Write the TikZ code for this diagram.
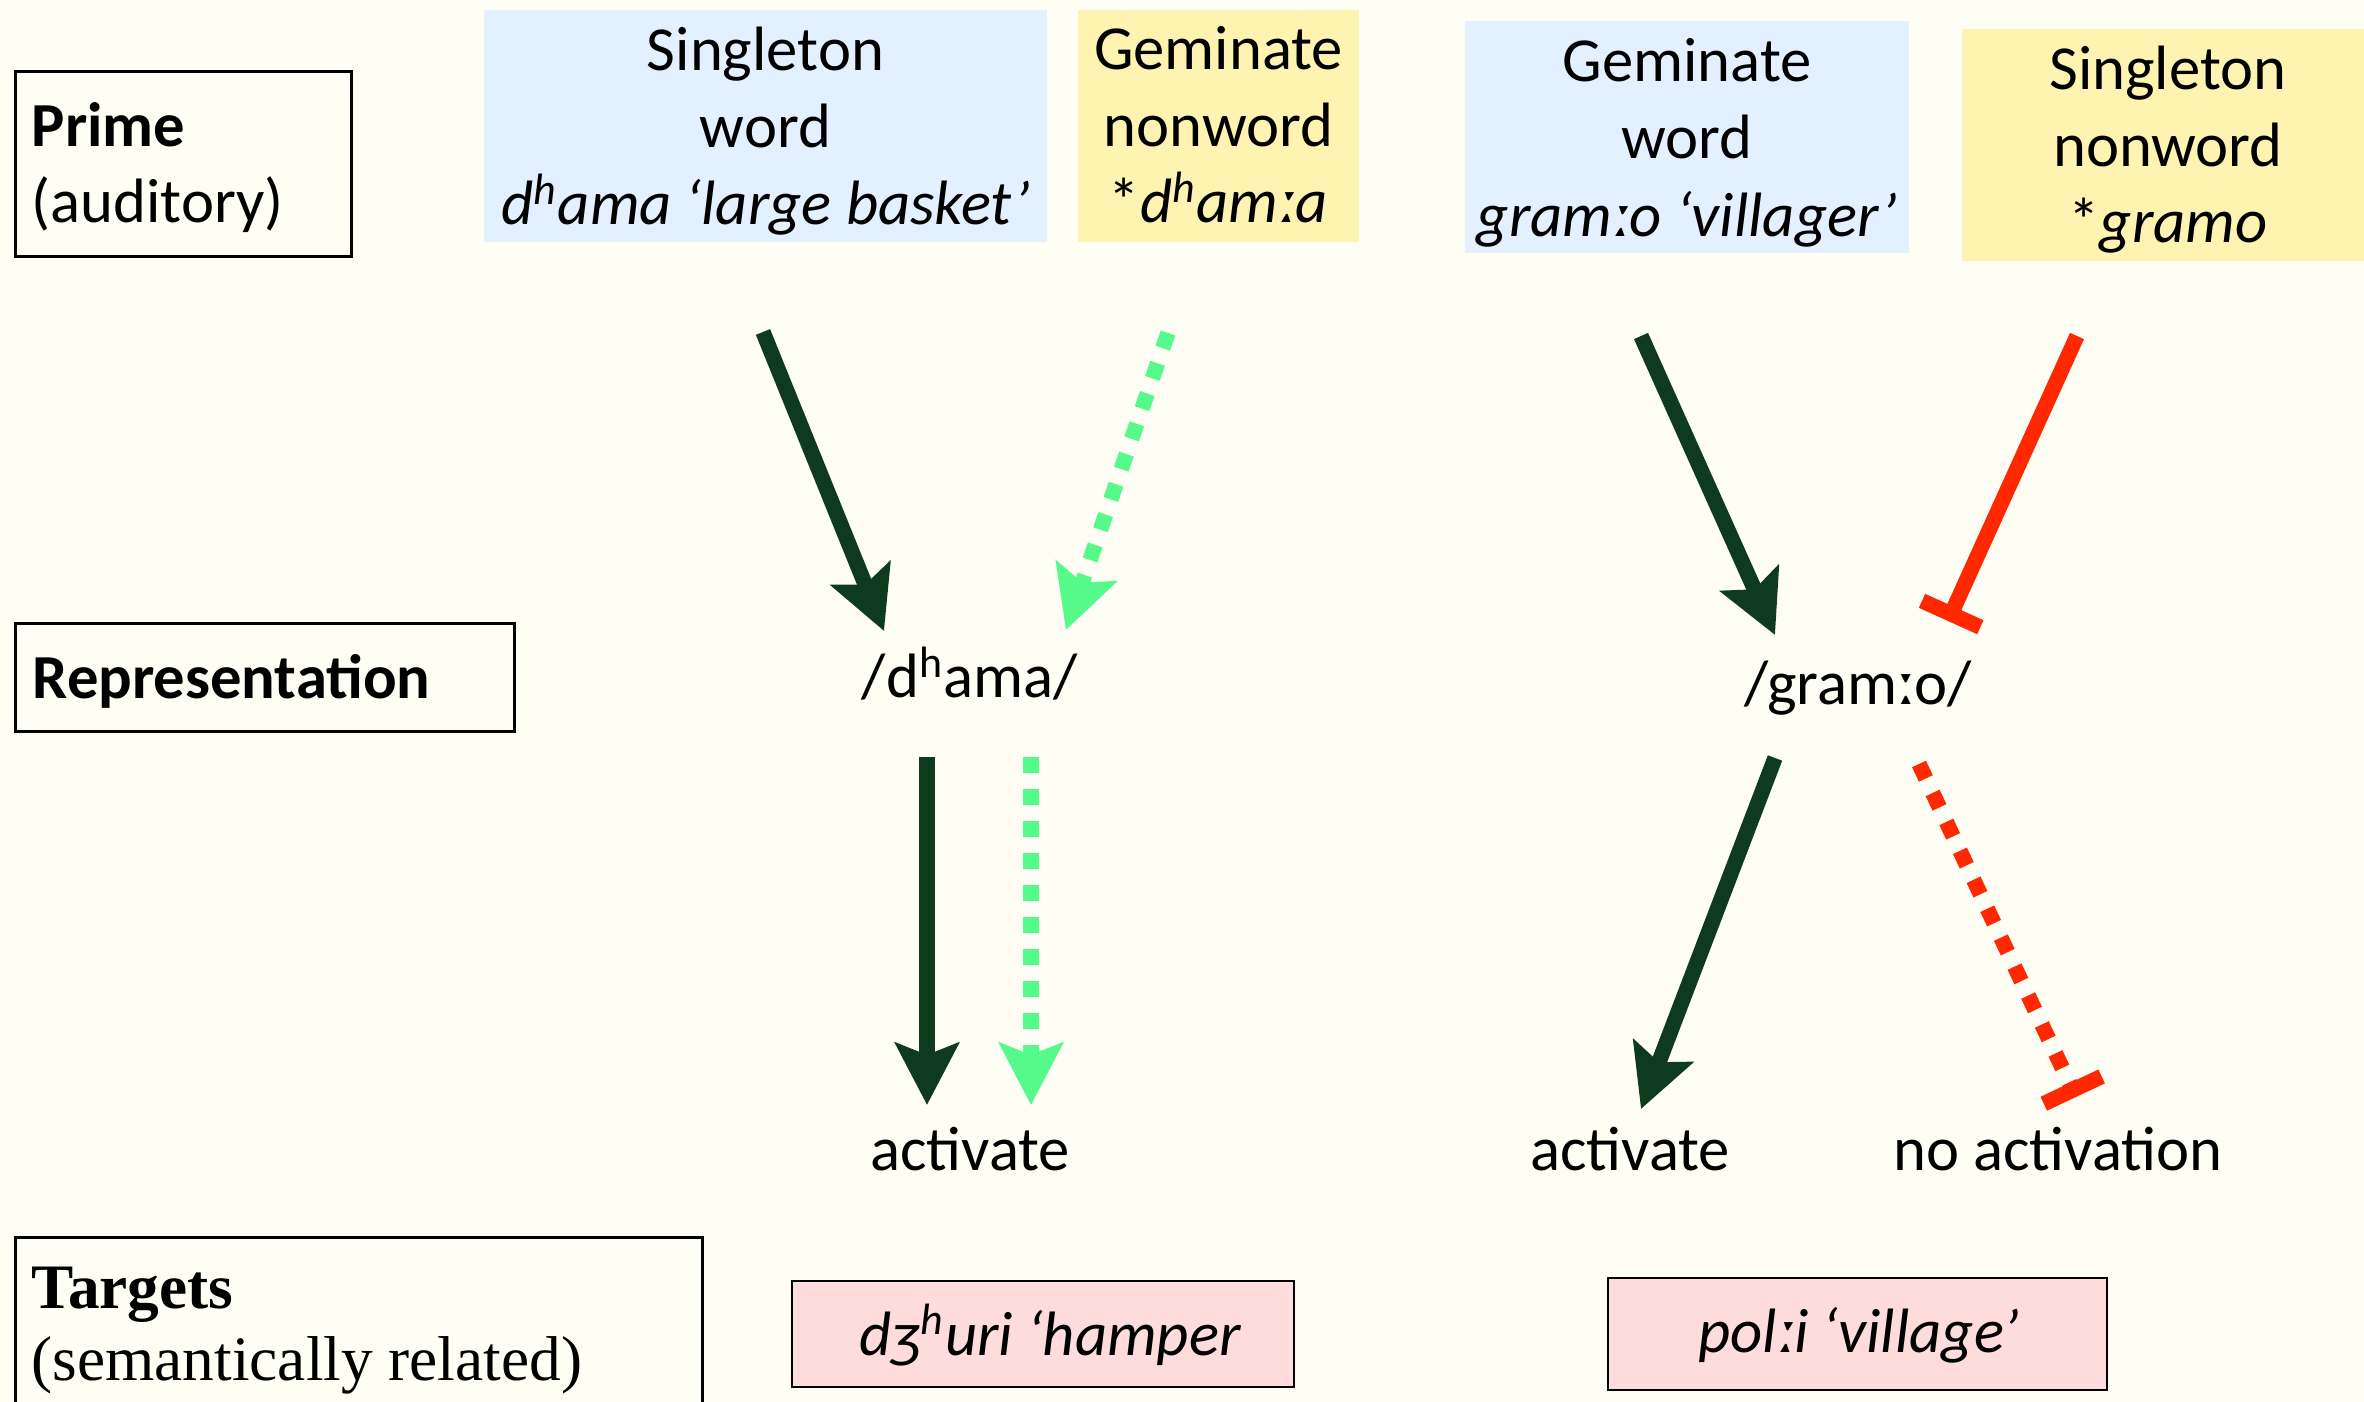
\documentclass[tikz,border=0pt]{standalone}
\usepackage{fontspec}
\setmainfont{Carlito}
\newfontfamily\serifface{Liberation Serif}
\usetikzlibrary{arrows.meta,fit}

\definecolor{bgcream}{HTML}{FEFEF5}
\definecolor{wordblue}{HTML}{E2F0FF}
\definecolor{nonwordyellow}{HTML}{FFF3B1}
\definecolor{targetpink}{HTML}{FFDCDC}
\definecolor{actgreen}{HTML}{0E3B1D}
\definecolor{weakgreen}{HTML}{55FA8A}
\definecolor{inhibred}{HTML}{FF2800}

\newcommand{\asp}{\textsuperscript{h}}

\tikzset{
  txt/.style={font=\fontsize{18.8}{22.8}\selectfont, inner sep=0pt, anchor=base},
  txtl/.style={txt, anchor=base west},
  serifl/.style={font=\serifface\fontsize{19}{23}\selectfont, inner sep=0pt, anchor=base west},
  labelbox/.style={draw=black, line width=0.9pt, inner sep=0pt},
  wordbox/.style={fill=wordblue, inner sep=0pt},
  nonwordbox/.style={fill=nonwordyellow, inner sep=0pt},
  targetbox/.style={fill=targetpink, draw=black, line width=0.8pt, inner sep=0pt},
  link/.style={line width=4.6pt},
  activates/.style={link, -{Stealth[length=18.6pt, width=19pt, inset=3.6pt]}},
  blocks/.style={link, -{Bar[width=19.2pt]}},
  weak/.style={dash pattern=on 4.8pt off 4.8pt},
}

\begin{document}
\begin{tikzpicture}[x=0.3pt, y=-0.3pt]
  \fill[bgcream] (0,0) rectangle (2364,1402);
  \useasboundingbox (0,0) rectangle (2364,1402);

  % row labels on the left
  \node[labelbox, fit={(15,72) (351,257)}] (primebox) {};
  \node[txtl] (primehead) at (31,147) {\bfseries Prime};
  \node[txtl] (primesub) at (31,223) {(auditory)};

  \node[labelbox, fit={(15,624) (514,732)}] (repbox) {};
  \node[txtl] (rephead) at (32,699) {\bfseries Representation};

  \node[labelbox, fit={(15,1237) (702,1430)}] (targetlabel) {};
  \node[serifl] (targethead) at (31,1308) {\bfseries Targets};
  \node[serifl] (targetsub) at (31,1380) {(semantically related)};

  % primes
  \node[wordbox, fit={(484,10) (1047,242)}] (p1box) {};
  \node[txt] (p1a) at (765.5,71) {Singleton};
  \node[txt] (p1b) at (765.5,148) {word};
  \node[txt] (p1c) at (765.5,225) {\itshape d\asp ama ‘large basket’};

  \node[nonwordbox, fit={(1078,10) (1359,242)}] (p2box) {};
  \node[txt] (p2a) at (1218.5,70) {Geminate};
  \node[txt] (p2b) at (1218.5,147) {nonword};
  \node[txt] (p2c) at (1218.5,223) {*\textit{d\asp amːa}};

  \node[wordbox, fit={(1465,21) (1909,253)}] (p3box) {};
  \node[txt] (p3a) at (1687,82) {Geminate};
  \node[txt] (p3b) at (1687,159) {word};
  \node[txt] (p3c) at (1687,237) {\itshape gramːo ‘villager’};

  \node[nonwordbox, fit={(1962,29) (2380,261)}] (p4box) {};
  \node[txt] (p4a) at (2168,90) {Singleton};
  \node[txt] (p4b) at (2168,167) {nonword};
  \node[txt] (p4c) at (2168,243) {*\textit{gramo}};

  % representations
  \node[txt] (repL) at (970,698) {/d\asp ama/};
  \node[txt] (repR) at (1858,705) {/gramːo/};

  % outcomes
  \node[txt] (outL) at (970,1170) {activate};
  \node[txt] (outM) at (1630,1170) {activate};
  \node[txt] (outR) at (2058,1170) {no activation};

  % targets
  \node[targetbox, fit={(792,1281) (1294,1387)}] (t1box) {};
  \node[txt] (t1) at (1050,1355) {\itshape dʒ\asp uri ‘hamper};
  \node[targetbox, fit={(1608,1278) (2107,1390)}] (t2box) {};
  \node[txt] (t2) at (1859,1352) {\itshape polːi ‘village’};

  % connector end points
  \coordinate (a1s) at (763,332);   \coordinate (a1e) at (884,631);
  \coordinate (b1s) at (1168,333);  \coordinate (b1e) at (1066,630);
  \coordinate (a2s) at (1641,336);  \coordinate (a2e) at (1775,635);
  \coordinate (r1s) at (2077,336);  \coordinate (r1e) at (1948,621);
  \coordinate (a3s) at (927,757);   \coordinate (a3e) at (927,1105);
  \coordinate (b3s) at (1031,757);  \coordinate (b3e) at (1031,1105);
  \coordinate (a4s) at (1775,758);  \coordinate (a4e) at (1641,1109);
  \coordinate (r2s) at (1919,764);  \coordinate (r2e) at (2076,1097);

  % prime -> representation
  \draw[activates, actgreen] (a1s) -- (a1e);
  \draw[activates, weak, weakgreen] (b1s) -- (b1e);
  \draw[activates, actgreen] (a2s) -- (a2e);
  \draw[blocks, inhibred] (r1s) -- (r1e);

  % representation -> targets
  \draw[activates, actgreen] (a3s) -- (a3e);
  \draw[activates, weak, weakgreen] (b3s) -- (b3e);
  \draw[activates, actgreen] (a4s) -- (a4e);
  \draw[blocks, weak, inhibred] (r2s) -- (r2e);
\end{tikzpicture}
\end{document}
